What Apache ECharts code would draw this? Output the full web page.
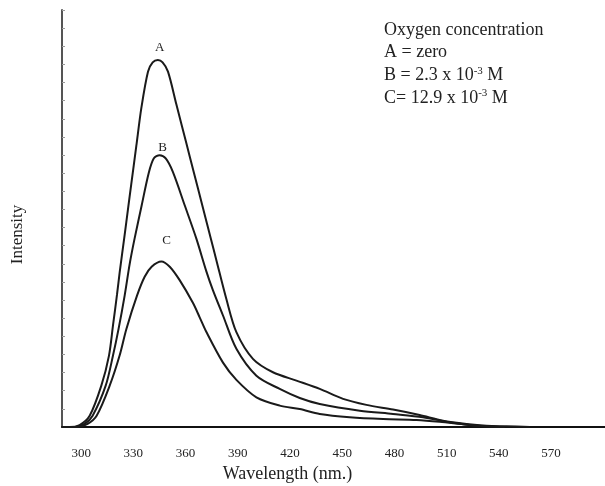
<!DOCTYPE html>
<html>
<head>
<meta charset="utf-8">
<script src="https://cdn.jsdelivr.net/npm/echarts@6/dist/echarts.min.js"></script>
<style>html,body{margin:0;padding:0;background:#fff}#c{width:605px;height:486px}</style>
</head>
<body>
<div id="c"></div>
<script>
// Wavelength (nm) and relative intensity
const A_nm = [289, 293.4, 299.1, 304.9, 311.6, 316.0, 318.3, 320.6, 322.1, 325.0, 326.9, 328.8, 331.7, 334.6, 338.4, 341.1, 344.1, 346.8, 349.9, 354.7, 360.5, 364.2, 370.0, 374.5, 377.7, 383.4, 389.2, 398.7, 410.2, 423.7, 437.1, 450.5, 463.9, 479.2, 494.5, 507.9, 521.4, 532.9, 544.4, 557.8];
const A_int = [0, 0, 0.11, 0.62, 2.28, 3.94, 5.6, 7.3, 8.5, 10.6, 12.0, 13.4, 15.5, 17.6, 19.6, 20.11, 20.24, 20.11, 19.6, 17.8, 15.63, 14.25, 12.08, 10.4, 9.2, 7.07, 5.23, 3.76, 3.02, 2.56, 2.10, 1.55, 1.22, 0.96, 0.66, 0.35, 0.17, 0.07, 0.04, 0];
const B_nm = [289, 296.3, 302.0, 306.6, 314.1, 318.3, 321.5, 325.0, 327.9, 330.7, 334.8, 338.8, 341.7, 345.1, 348.6, 352.7, 359.5, 366.2, 371.9, 375.7, 381.5, 389.2, 400.7, 414.1, 425.6, 437.1, 460.1, 479.2, 496.4, 511.8, 527.1, 540.5];
const B_int = [0, 0, 0.17, 0.62, 2.28, 3.94, 5.41, 7.25, 9.0, 10.39, 12.23, 14.0, 14.81, 14.99, 14.81, 14.07, 12.23, 10.39, 8.6, 7.55, 6.15, 4.31, 2.83, 2.10, 1.60, 1.27, 0.90, 0.72, 0.54, 0.26, 0.07, 0];
const C_nm = [289, 298.0, 303.7, 308.9, 316.4, 322.1, 326.0, 332.1, 336.5, 340.5, 346.1, 350.9, 356.6, 364.2, 368.1, 371.9, 381.5, 389.2, 400.7, 414.1, 425.6, 437.1, 454.3, 473.5, 492.7, 506.0, 521.4, 532.9, 543.4];
const C_int = [0, 0, 0.17, 0.62, 2.28, 3.94, 5.41, 7.25, 8.29, 8.84, 9.13, 8.84, 8.1, 6.85, 6.05, 5.25, 3.55, 2.6, 1.64, 1.18, 0.99, 0.72, 0.54, 0.44, 0.39, 0.29, 0.13, 0.04, 0];
const xTicks = [300, 330, 360, 390, 420, 450, 480, 510, 540, 570];
const curveNames = ['A', 'B', 'C'];
const curveLabelAt = [[345.1, 20.9], [346.8, 15.4], [349.1, 10.3]];
const legendLines = ['Oxygen concentration', 'A = zero', 'B = 2.3 x 10{s|-3} M', 'C= 12.9 x 10{s|-3} M'];

const zip = (xs, ys) => xs.map((x, i) => [x, ys[i]]);
const serif = 'Liberation Serif';
const curves = [zip(A_nm, A_int), zip(B_nm, B_int), zip(C_nm, C_int)];

const chart = echarts.init(document.getElementById('c'), null, {renderer: 'canvas'});
chart.setOption({
  backgroundColor: '#fff',
  animation: false,
  grid: {left: 62, right: 0, top: 10, bottom: 59, outerBoundsMode: 'none', containLabel: false},
  xAxis: {
    type: 'value', min: 289, max: 601,
    name: 'Wavelength (nm.)', nameLocation: 'middle', nameGap: 38,
    nameTextStyle: {fontFamily: serif, fontSize: 18, color: '#222', padding: [0, 92, 0, 0]},
    axisLine: {show: true, lineStyle: {color: '#111', width: 2}},
    axisTick: {show: false},
    splitLine: {show: false},
    axisLabel: {customValues: xTicks, margin: 20, fontFamily: serif, fontSize: 13, color: '#222'}
  },
  yAxis: {
    type: 'value', min: 0, max: 23, interval: 1,
    name: 'Intensity', nameLocation: 'middle', nameGap: 36,
    nameTextStyle: {fontFamily: serif, fontSize: 17, color: '#222', padding: [0, 32, 0, 0]},
    axisLine: {show: true, lineStyle: {color: '#555', width: 2}},
    axisTick: {show: true, inside: true, length: 3, lineStyle: {color: '#999', width: 1}},
    axisLabel: {show: false},
    splitLine: {show: false}
  },
  series: curves.map((d, i) => ({
    type: 'line', data: d, smooth: 0.3, symbol: 'none',
    lineStyle: {color: '#1a1a1a', width: 2},
    markPoint: {
      symbol: 'circle', symbolSize: 1,
      itemStyle: {color: 'rgba(0,0,0,0)'},
      label: {show: true, position: 'inside', formatter: curveNames[i], color: '#222', fontFamily: serif, fontSize: 13},
      data: [{coord: curveLabelAt[i]}]
    }
  })),
  graphic: legendLines.map((t, i) => ({
    type: 'text', left: 384, top: 21 + i * 22.3,
    style: {
      text: t, fontFamily: serif, fontSize: 18, fill: '#222',
      rich: {s: {fontFamily: serif, fontSize: 11, fill: '#222', verticalAlign: 'top', padding: [0, 0, 9, 0]}}
    }
  }))
});
</script>
</body>
</html>
